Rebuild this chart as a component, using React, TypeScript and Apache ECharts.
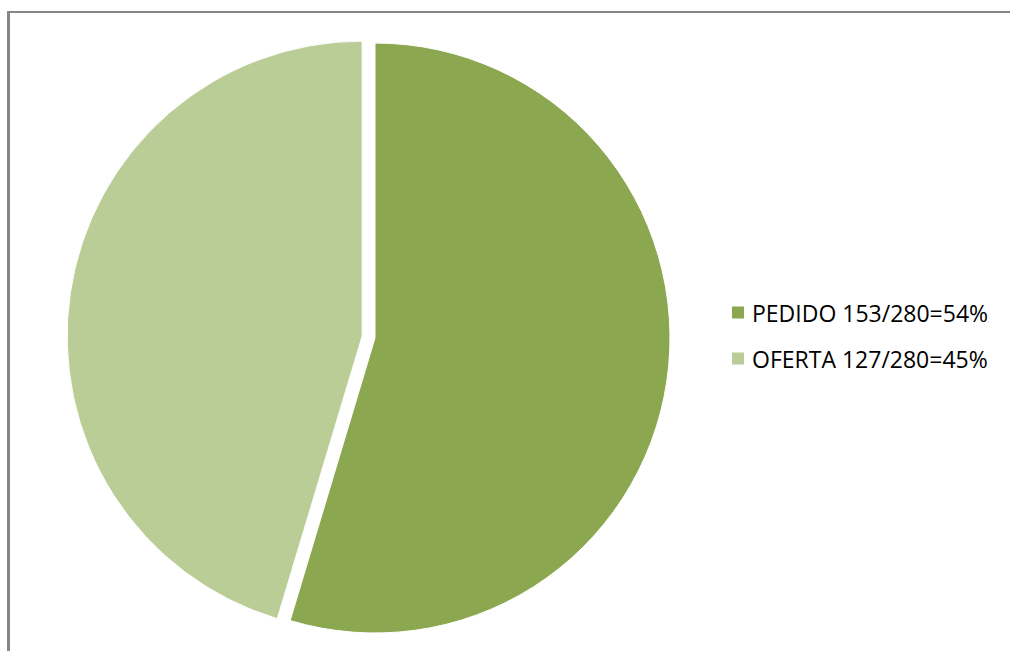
import React, { useEffect, useRef } from "react";
import * as echarts from "echarts";

const categories = ["PEDIDO", "OFERTA"];
const values = [153, 127];
const colors = ["#8BA850", "#BACD97"];

export default function App() {
  const ref = useRef<HTMLDivElement>(null);
  useEffect(() => {
    if (!ref.current) return;
    const chart = echarts.init(ref.current, null, { renderer: "svg" });
    const total = values.reduce((a, b) => a + b, 0);
    const labelFor = (name: string) => {
      const i = categories.indexOf(name);
      return `${name} ${values[i]}/${total}=${Math.floor((values[i] / total) * 100)}%`;
    };
    chart.setOption({
      animation: false,
      backgroundColor: "#ffffff",
      legend: {
        orient: "vertical",
        left: 730,
        top: 301,
        padding: 0,
        itemWidth: 14,
        itemHeight: 14,
        itemGap: 23,
        icon: "rect",
        selectedMode: false,
        formatter: labelFor,
        textStyle: {
          fontFamily: "Open Sans",
          fontSize: 23,
          color: "#000000",
          lineHeight: 14,
          padding: [0, 0, 0, 2],
        },
        data: categories,
      },
      graphic: [
        {
          type: "line",
          shape: { x1: 8.5, y1: 11, x2: 8.5, y2: 651 },
          style: { stroke: "#868686", lineWidth: 3 },
        },
        {
          type: "line",
          shape: { x1: 7, y1: 12, x2: 1010, y2: 12 },
          style: { stroke: "#868686", lineWidth: 2 },
        },
      ],
      series: [
        {
          type: "pie",
          center: [375, 338],
          radius: [0, 295],
          startAngle: 90,
          clockwise: true,
          selectedMode: "single",
          selectedOffset: 13,
          label: { show: false },
          labelLine: { show: false },
          emphasis: { disabled: true },
          itemStyle: { borderColor: "#ffffff", borderWidth: 1 },
          data: categories.map((c, i) => ({
            name: c,
            value: values[i],
            selected: i === 1,
            itemStyle: { color: colors[i] },
          })),
        },
      ],
    });
    return () => chart.dispose();
  }, []);
  return (
    <div
      ref={ref}
      style={{ position: "fixed", left: 0, top: 0, width: 1010, height: 651 }}
    />
  );
}
